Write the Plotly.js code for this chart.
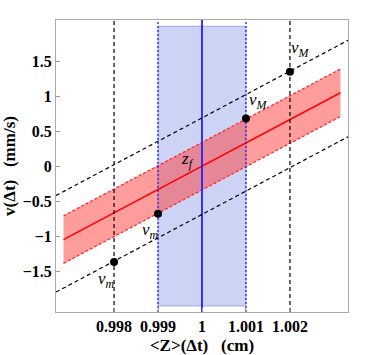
<!DOCTYPE html>
<html>
<head>
<meta charset="utf-8">
<script src="https://cdn.plot.ly/plotly-3.0.1.min.js"></script>
<style>
  html, body { margin: 0; padding: 0; background: #fff; }
  #myDiv { width: 382px; height: 355px; }
</style>
</head>
<body>
<div id="myDiv"></div>
<script>
// values
var xRange = [0.99668, 1.00332];
var yRange = [-2.085, 2.09];
var xTicks = [0.998, 0.999, 1, 1.001, 1.002];
var xTickText = ['0.998', '0.999', '1', '1.001', '1.002'];
var yTicks = [-1.5, -1, -0.5, 0, 0.5, 1, 1.5];
var yTickText = ['\u22121.5', '\u22121', '\u22120.5', '0', '0.5', '1', '1.5'];

// red band around z_f
var bandX = [0.99685, 1.00315];
var bandMid = [-1.05, 1.05];
var bandTop = [-0.71, 1.39];
var bandBot = [-1.39, 0.71];

// black dashed limits
var limX = [0.99668, 1.00332];
var limTop = [-0.42, 1.80];
var limBot = [-1.80, 0.42];

// blue window
var winX = [0.999, 1.001];
var winY = [-2.0, 2.0];
var centerZ = 1;
var outerZ = [0.998, 1.002];

// marked points
var ptX = [0.998, 0.999, 1.001, 1.002];
var ptV = [-1.37, -0.68, 0.68, 1.35];

function vline(x, color, dash, width) {
  return {x: [x, x], y: yRange, mode: 'lines', type: 'scatter',
    line: {color: color, dash: dash, width: width}, hoverinfo: 'skip'};
}

var data = [];

// blue shaded window
data.push({
  x: [winX[0], winX[1], winX[1], winX[0], winX[0]],
  y: [winY[0], winY[0], winY[1], winY[1], winY[0]],
  fill: 'toself', fillcolor: 'rgba(120,140,230,0.38)',
  mode: 'lines', line: {color: 'rgba(110,120,200,0.55)', width: 1},
  type: 'scatter', hoverinfo: 'skip'
});

// red band
data.push({x: bandX, y: bandBot, mode: 'lines', type: 'scatter',
  line: {color: '#ff2020', dash: '3px,2px', width: 1.2}, hoverinfo: 'skip'});
data.push({x: bandX, y: bandTop, mode: 'lines', type: 'scatter', fill: 'tonexty',
  fillcolor: 'rgba(255,60,60,0.5)',
  line: {color: '#ff2020', dash: '3px,2px', width: 1.2}, hoverinfo: 'skip'});
data.push({x: bandX, y: bandMid, mode: 'lines', type: 'scatter',
  line: {color: '#ff0000', width: 1.5}, hoverinfo: 'skip'});

// vertical lines
data.push(vline(winX[0], '#2020ff', '2px,2px', 1.3));
data.push(vline(winX[1], '#2020ff', '2px,2px', 1.3));
data.push(vline(centerZ, '#2020ff', 'solid', 1.8));
data.push(vline(outerZ[0], '#000', '4px,3px', 1.2));
data.push(vline(outerZ[1], '#000', '4px,3px', 1.2));

// black dashed limits
data.push({x: limX, y: limTop, mode: 'lines', type: 'scatter',
  line: {color: '#000', dash: '4px,3px', width: 1.2}, hoverinfo: 'skip'});
data.push({x: limX, y: limBot, mode: 'lines', type: 'scatter',
  line: {color: '#000', dash: '4px,3px', width: 1.2}, hoverinfo: 'skip'});

// points
data.push({x: ptX, y: ptV, mode: 'markers', type: 'scatter',
  marker: {color: '#000', size: 8}, hoverinfo: 'skip'});

var lblFont = {family: 'Liberation Serif', size: 17, color: '#000'};
function lbl(txt, x, y) {
  return {text: txt, x: x, y: y, xref: 'x', yref: 'y', showarrow: false, font: lblFont};
}

var tickFont = {family: 'Liberation Serif', size: 16, color: '#000', weight: 'bold'};

var layout = {
  width: 382, height: 355,
  margin: {l: 56, r: 34, t: 20, b: 43},
  showlegend: false,
  paper_bgcolor: '#fff', plot_bgcolor: '#fff',
  font: {family: 'Liberation Serif', size: 14, color: '#000'},
  xaxis: {
    range: xRange, showgrid: false, zeroline: false,
    tickvals: xTicks, ticktext: xTickText,
    tickfont: tickFont,
    ticks: 'inside', ticklen: 4, tickcolor: '#999',
    showline: true, linecolor: '#aaa', linewidth: 1, mirror: true,
    title: {text: '<b>&lt;Z&gt;(\u0394t)   (cm)</b>', font: {family: 'Liberation Serif', size: 17}, standoff: 4}
  },
  yaxis: {
    range: yRange, showgrid: false, zeroline: false,
    tickvals: yTicks, ticktext: yTickText,
    tickfont: tickFont,
    ticks: 'inside', ticklen: 4, tickcolor: '#999',
    showline: true, linecolor: '#aaa', linewidth: 1, mirror: true,
    title: {text: '<b>v(\u0394t)   (mm/s)</b>', font: {family: 'Liberation Serif', size: 17}, standoff: 8}
  },
  annotations: [
    lbl('<i>v</i><sub><i>M</i></sub>', 1.00225, 1.68),
    lbl('<i>v</i><sub><i>M</i></sub>', 1.00128, 0.93),
    lbl('<i>z</i><sub><i>f</i></sub>', 0.99966, 0.09),
    lbl('<i>v</i><sub><i>m</i></sub>', 0.99882, -0.93),
    lbl('<i>v</i><sub><i>m</i></sub>', 0.99783, -1.63)
  ]
};

Plotly.newPlot('myDiv', data, layout, {displayModeBar: false, staticPlot: true});
</script>
</body>
</html>
